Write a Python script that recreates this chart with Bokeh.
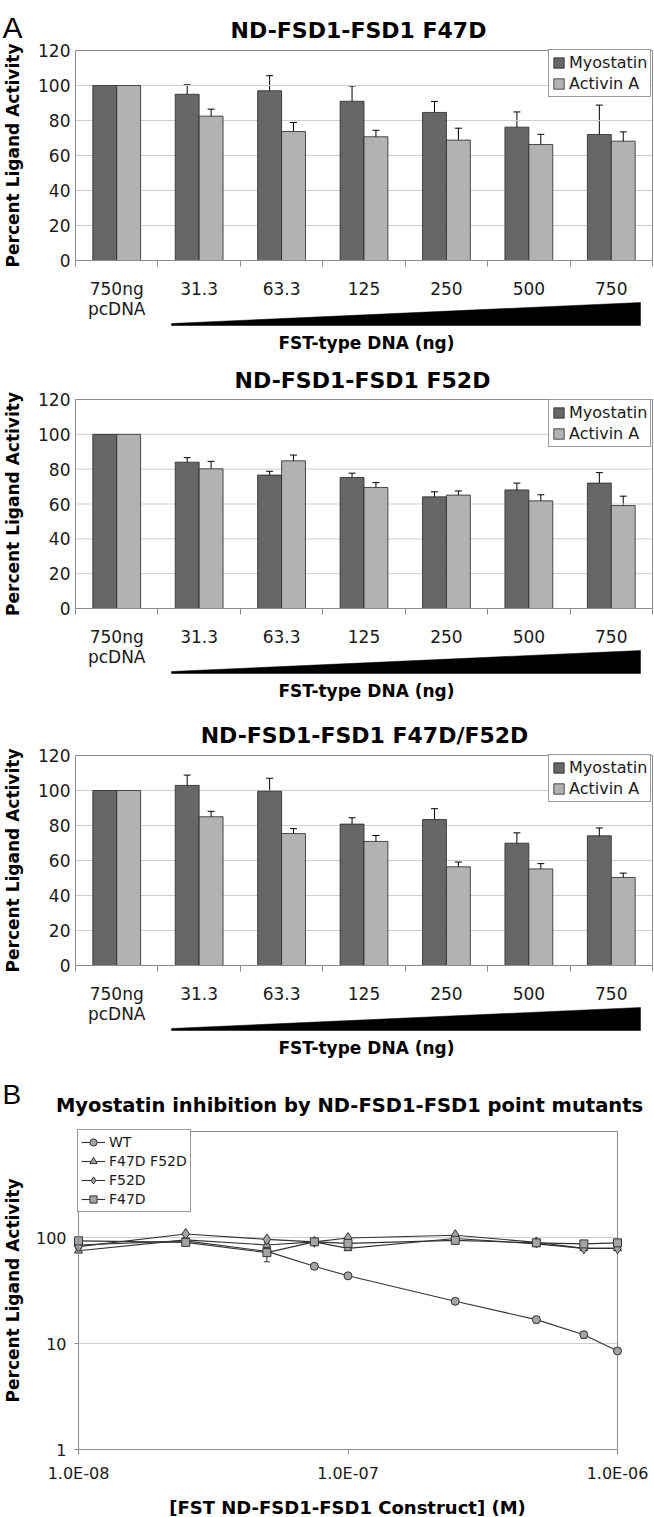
import math
from bokeh.plotting import figure
from bokeh.models import (ColumnDataSource, FixedTicker, Whisker, TeeHead, Legend,
                          LegendItem, Label, Range1d, CustomJSTickFormatter)
from bokeh.layouts import column
from bokeh.embed import file_html
from bokeh.resources import INLINE

# ---------------- data ----------------
categories = ["750ng\npcDNA", "31.3", "63.3", "125", "250", "500", "750"]

f47d_myo = [100, 95, 97, 91, 84.6, 76.2, 72]
f47d_myo_err = [0, 5.4, 8.6, 8.7, 6.3, 8.7, 16.8]
f47d_act = [100, 82.5, 73.7, 70.7, 68.8, 66.3, 68.2]
f47d_act_err = [0, 4.0, 5.2, 3.7, 6.8, 5.8, 5.3]

f52d_myo = [100, 84, 76.6, 75.2, 64.1, 68.1, 72]
f52d_myo_err = [0, 2.6, 2.2, 2.5, 2.9, 3.9, 6.0]
f52d_act = [100, 80.2, 84.8, 69.5, 65.1, 61.8, 59.1]
f52d_act_err = [0, 4.3, 3.3, 2.8, 2.4, 3.5, 5.4]

dbl_myo = [100, 102.9, 99.6, 80.8, 83.4, 69.9, 74.1]
dbl_myo_err = [0, 5.9, 7.4, 3.6, 6.2, 5.9, 4.5]
dbl_act = [100, 85, 75.4, 70.9, 56.4, 55.2, 50.3]
dbl_act_err = [0, 3.1, 2.8, 3.4, 2.7, 3.0, 2.5]

y_ticks_a = [0, 20, 40, 60, 80, 100, 120]

conc = [1e-8, 2.5e-8, 5e-8, 7.5e-8, 1e-7, 2.5e-7, 5e-7, 7.5e-7, 1e-6]
wt = [85, 93, 74, 53.5, 43.5, 25, 16.8, 12.1, 8.5]
wt_err = [2, 3, 3, 3, 2, 1.5, 1.2, 0.9, 0.4]
dbl_b = [75, 95, 85, 91, 79, 98, 87, 79, 79]
dbl_b_err = [3, 3, 4, 3, 3, 3, 3, 2, 2]
f52d_b = [82, 108, 96, 91, 99, 105, 90, 79, 79]
f52d_b_err = [3, 3, 3, 3, 3, 3, 3, 2, 2]
f47d_b = [93, 90, 72, 91, 88, 94, 89, 87, 89]
f47d_b_err = [3, 3, 13, 3, 3, 3, 5, 3, 3]
x_ticks_b = [1e-8, 1e-7, 1e-6]
y_ticks_b = [1, 10, 100]
y_grid_b = [10, 100]

# ---------------- style / layout ----------------
DARK = "#676767"
LIGHT = "#b2b2b2"
EDGE = "#262626"
AXIS = "#8c8c8c"
GRID = "#cfcfcf"
TXT = "#1a1a1a"
FONT = "DejaVu Sans"
W = 654
A_LEFT = 75        # pixel of plot-area left edge (panels A)
A_RIGHT = 652      # pixel of plot-area right edge (panels A)
DODGE = 0.145
BARW = 0.29
LEG_A_H = 44       # legend box height, panels A
LEG_B_H = 81       # legend box height, panel B


def base_fig(H, x_range, y_range, **kw):
    p = figure(width=W, height=H, x_range=x_range, y_range=y_range, title=None,
               output_backend="svg", toolbar_location=None, min_border_left=0,
               min_border_right=0, min_border_top=0, min_border_bottom=0, **kw)
    p.outline_line_color = None
    p.background_fill_color = "white"
    p.border_fill_color = "white"
    p.xgrid.grid_line_color = None
    p.ygrid.grid_line_color = None
    return p


def text(p, x, y, s, size, bold=False, angle=0.0, font=FONT, align="center",
         baseline="middle"):
    p.add_layout(Label(x=x, y=y, text=s, text_font=font, text_font_size=size,
                       text_font_style="bold" if bold else "normal", angle=angle,
                       text_align=align, text_baseline=baseline, text_color="black"))


def bar_panel(title, myo, myo_err, act, act_err, H, top, zero, title_xy, legend_top,
              letter=None):
    n = len(categories)
    cat_w = (A_RIGHT - A_LEFT) / float(n)
    ppu = (zero - top) / 120.0

    def dx(px):
        return -0.5 + (px - A_LEFT) / cat_w

    def dy(py):
        return (zero - py) / ppu

    p = base_fig(H, Range1d(dx(0), dx(W)), Range1d(dy(H), dy(0)))

    # gridlines, and plot-area border on top and right
    p.segment(x0=[-0.5] * (len(y_ticks_a) - 1), y0=y_ticks_a[1:],
              x1=[n - 0.5] * (len(y_ticks_a) - 1), y1=y_ticks_a[1:],
              line_color=GRID, line_width=1)
    p.segment(x0=[-0.5, n - 0.5], y0=[120, 0], x1=[n - 0.5, n - 0.5], y1=[120, 120],
              line_color=AXIS, line_width=1)

    idx = list(range(n))
    xm = [i - DODGE for i in idx]
    xa = [i + DODGE for i in idx]
    src_m = ColumnDataSource(dict(x=xm, top=myo))
    src_a = ColumnDataSource(dict(x=xa, top=act))
    r1 = p.vbar(x="x", top="top", width=BARW, source=src_m, fill_color=DARK,
                line_color=EDGE, line_width=0.8)
    r2 = p.vbar(x="x", top="top", width=BARW, source=src_a, fill_color=LIGHT,
                line_color=EDGE, line_width=0.8)

    for xs, vals, errs in ((xm, myo, myo_err), (xa, act, act_err)):
        keep = [i for i, e in enumerate(errs) if e > 0]
        es = ColumnDataSource(dict(x=[xs[i] for i in keep],
                                   lo=[vals[i] - errs[i] for i in keep],
                                   hi=[vals[i] + errs[i] for i in keep]))
        p.add_layout(Whisker(source=es, base="x", upper="hi", lower="lo",
                             line_color="black", line_width=1,
                             upper_head=TeeHead(size=7, line_color="black", line_width=1),
                             lower_head=TeeHead(size=7, line_color="black", line_width=1)))

    legend = Legend(items=[LegendItem(label="Myostatin", renderers=[r1]),
                           LegendItem(label="Activin A", renderers=[r2])],
                    location=(548, H - legend_top - LEG_A_H), border_line_color="#333333",
                    border_line_width=1, background_fill_color="white",
                    background_fill_alpha=1, label_text_font=FONT,
                    label_text_font_size="16px", label_text_color=TXT,
                    glyph_width=13, glyph_height=13, label_standoff=4, padding=3,
                    spacing=2, label_height=18)
    p.add_layout(legend)

    p.xaxis.fixed_location = 0
    p.xaxis.bounds = (-0.5, n - 0.5)
    p.xaxis.ticker = FixedTicker(ticks=idx, minor_ticks=[i - 0.5 for i in range(n + 1)])
    p.xaxis.major_label_overrides = {i: c for i, c in enumerate(categories)}
    p.xaxis.major_tick_line_color = None
    p.xaxis.major_tick_out = 0
    p.xaxis.minor_tick_out = 6
    p.xaxis.minor_tick_in = 0
    p.xaxis.minor_tick_line_color = AXIS
    p.xaxis.axis_line_color = AXIS
    p.xaxis.major_label_standoff = 12
    p.xaxis.major_label_text_font = FONT
    p.xaxis.major_label_text_font_size = "17px"
    p.xaxis.major_label_text_line_height = 1.0
    p.xaxis.major_label_text_color = TXT

    p.yaxis.fixed_location = -0.5
    p.yaxis.bounds = (0, 120)
    p.yaxis.ticker = FixedTicker(ticks=y_ticks_a)
    p.yaxis.major_tick_out = 0
    p.yaxis.major_tick_in = 0
    p.yaxis.minor_tick_line_color = None
    p.yaxis.axis_line_color = AXIS
    p.yaxis.major_label_standoff = 5
    p.yaxis.major_label_text_font = FONT
    p.yaxis.major_label_text_font_size = "17px"
    p.yaxis.major_label_text_color = TXT

    # increasing-dose wedge under the category labels
    p.patch(x=[dx(171), dx(640), dx(640), dx(171)],
            y=[dy(zero + 63), dy(zero + 42), dy(zero + 65), dy(zero + 65)],
            fill_color="black", line_color="black", line_width=0.5)

    text(p, dx(title_xy[0]), dy(title_xy[1]), title, "22px", bold=True)
    text(p, dx(366), dy(zero + 82), "FST-type DNA (ng)", "17px", bold=True)
    text(p, dx(12), 60, "Percent Ligand Activity", "17px", bold=True, angle=math.pi / 2)
    if letter:
        text(p, dx(2), dy(27), letter, "30px", font="Liberation Sans", align="left",
             baseline="alphabetic")
    return p


pA1 = bar_panel("ND-FSD1-FSD1 F47D", f47d_myo, f47d_myo_err, f47d_act, f47d_act_err,
                H=354, top=50, zero=260, title_xy=(358, 30), legend_top=53, letter="A")
pA2 = bar_panel("ND-FSD1-FSD1 F52D", f52d_myo, f52d_myo_err, f52d_act, f52d_act_err,
                H=354, top=45, zero=254, title_xy=(362, 26), legend_top=49)
pA3 = bar_panel("ND-FSD1-FSD1 F47D/F52D", dbl_myo, dbl_myo_err, dbl_act, dbl_act_err,
                H=354, top=47, zero=257, title_xy=(364, 27), legend_top=50)

# ---------------- panel B ----------------
HB = 455
B_X0, B_X1 = 78, 617       # pixels of 1e-8 and 1e-6
B_YTOP, B_Y1 = 69, 387     # pixels of 1000 and 1
px_dec_x = (B_X1 - B_X0) / 2.0
px_dec_y = (B_Y1 - B_YTOP) / 3.0


def bx(px):
    return 10 ** (-8 + (px - B_X0) / px_dec_x)


def by(py):
    return 10 ** ((B_Y1 - py) / px_dec_y)


pB = base_fig(HB, Range1d(bx(0), bx(W)), Range1d(by(HB), by(0)),
              x_axis_type="log", y_axis_type="log")

pB.segment(x0=[x_ticks_b[0]] * len(y_grid_b), y0=y_grid_b,
           x1=[x_ticks_b[-1]] * len(y_grid_b), y1=y_grid_b,
           line_color=GRID, line_width=1)
pB.segment(x0=[x_ticks_b[0], x_ticks_b[-1]], y0=[1000, 1],
           x1=[x_ticks_b[-1], x_ticks_b[-1]], y1=[1000, 1000],
           line_color=AXIS, line_width=1)

series = [("WT", wt, wt_err, "circle", 8),
          ("F47D F52D", dbl_b, dbl_b_err, "triangle", 8),
          ("F52D", f52d_b, f52d_b_err, "diamond", 11),
          ("F47D", f47d_b, f47d_b_err, "square", 8)]
items = []
for name, vals, errs, marker, size in series:
    src = ColumnDataSource(dict(x=conc, y=vals,
                                lo=[v - e for v, e in zip(vals, errs)],
                                hi=[v + e for v, e in zip(vals, errs)]))
    pB.add_layout(Whisker(source=src, base="x", upper="hi", lower="lo",
                          line_color="#333333", line_width=1,
                          upper_head=TeeHead(size=6, line_color="#333333", line_width=1),
                          lower_head=TeeHead(size=6, line_color="#333333", line_width=1)))
    lr = pB.line("x", "y", source=src, line_color="#333333", line_width=1.1)
    sr = pB.scatter("x", "y", source=src, marker=marker, size=size, fill_color="#a4a4a4",
                    line_color="#333333", line_width=1)
    items.append(LegendItem(label=name, renderers=[lr, sr]))

legB = Legend(items=items, location=(B_X0 - 1, HB - B_YTOP - LEG_B_H),
              border_line_color="#333333",
              border_line_width=1, background_fill_color="white", background_fill_alpha=1,
              label_text_font=FONT, label_text_font_size="14px", label_text_color=TXT,
              glyph_width=24, glyph_height=18, label_height=18, label_standoff=4,
              padding=3, spacing=1)
pB.add_layout(legB)

pB.xaxis.fixed_location = 1
pB.xaxis.bounds = (x_ticks_b[0], x_ticks_b[-1])
pB.xaxis.ticker = FixedTicker(ticks=x_ticks_b)
pB.xaxis.formatter = CustomJSTickFormatter(
    code="return tick.toExponential(1).toUpperCase().replace(/E-(\\d)$/, 'E-0$1');")
pB.xaxis.major_tick_out = 5
pB.xaxis.major_tick_in = 0
pB.xaxis.major_tick_line_color = AXIS
pB.xaxis.minor_tick_line_color = None
pB.xaxis.axis_line_color = AXIS
pB.xaxis.major_label_standoff = 9
pB.xaxis.major_label_text_font = FONT
pB.xaxis.major_label_text_font_size = "16px"
pB.xaxis.major_label_text_color = TXT

pB.yaxis.fixed_location = x_ticks_b[0]
pB.yaxis.bounds = (1, 1000)
pB.yaxis.ticker = FixedTicker(ticks=y_ticks_b)
pB.yaxis.formatter = CustomJSTickFormatter(code="return String(Math.round(tick));")
pB.yaxis.major_tick_out = 4
pB.yaxis.major_tick_in = 0
pB.yaxis.major_tick_line_color = AXIS
pB.yaxis.minor_tick_line_color = None
pB.yaxis.axis_line_color = AXIS
pB.yaxis.major_label_standoff = 8
pB.yaxis.major_label_text_font = FONT
pB.yaxis.major_label_text_font_size = "16px"
pB.yaxis.major_label_text_color = TXT

text(pB, bx(349), by(43), "Myostatin inhibition by ND-FSD1-FSD1 point mutants",
     "19.5px", bold=True)
text(pB, bx(347), by(445), "[FST ND-FSD1-FSD1 Construct] (M)", "18px", bold=True)
text(pB, bx(12), by((B_YTOP + B_Y1) / 2.0), "Percent Ligand Activity", "17px",
     bold=True, angle=math.pi / 2)
text(pB, bx(2), by(32), "B", "28px", font="Liberation Sans", align="left",
     baseline="alphabetic")

layout = column(pA1, pA2, pA3, pB, spacing=0)
open("out.html", "w").write(file_html(layout, INLINE))
